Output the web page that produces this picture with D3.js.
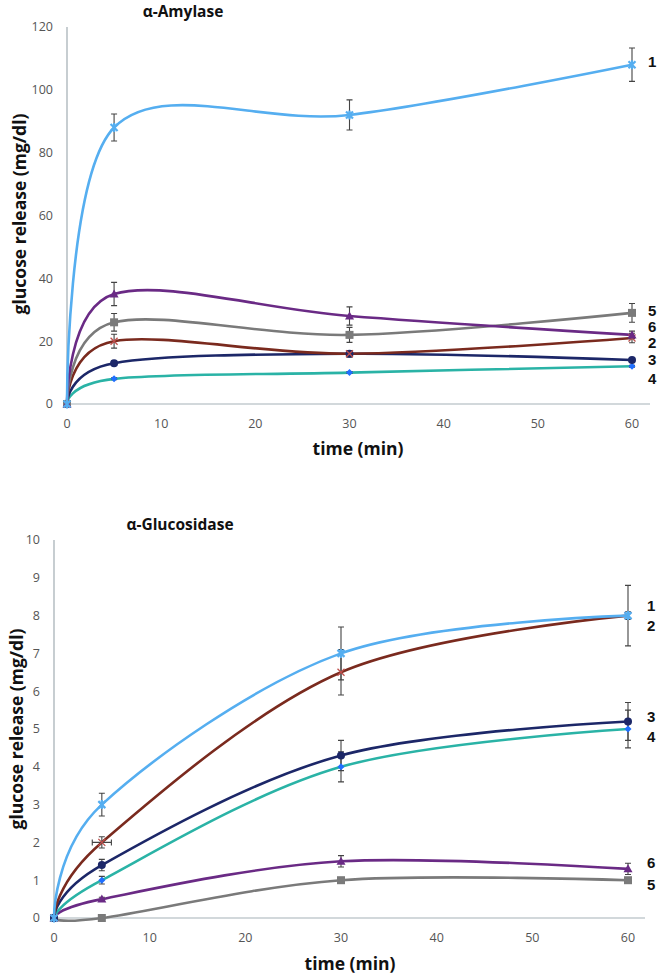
<!DOCTYPE html>
<html><head><meta charset="utf-8">
<script src="https://cdn.jsdelivr.net/npm/d3@7"></script>
<style>body{margin:0;background:#fff}svg{display:block}</style>
</head><body>
<script>
// ---------- data ----------
const times = [0, 5, 30, 60];
const seriesNames = ["1", "2", "3", "4", "5", "6"];
const seriesColors = ["#55aef0", "#7a2a1e", "#1c2768", "#2ab3a6", "#7a7a7a", "#6a2a85"];
const markerColors = ["#55aef0", "#c0504d", "#1c2768", "#1f6fff", "#7a7a7a", "#6a2a85"];
const markerShapes = ["star", "x", "circle", "diamond", "square", "triangle"];

// alpha-Amylase
const amyS1 = [0, 88, 92, 108], amyE1 = [0, 4.3, 4.8, 5.3];
const amyS2 = [0, 20, 16, 21],  amyE2 = [0, 2.2, 1, 1.5];
const amyS3 = [0, 13, 16, 14],  amyE3 = [0, 0.7, 1, 0.8];
const amyS4 = [0, 8, 10, 12],   amyE4 = [0, 0.3, 0.3, 0.3];
const amyS5 = [0, 26, 22, 29],  amyE5 = [0, 2.8, 2.4, 3];
const amyS6 = [0, 35, 28, 22],  amyE6 = [0, 3.7, 2.9, 1.2];
const amyLabelVals = [109, 19.5, 14, 8, 29.8, 24.6];
const amyYTicks = [0, 20, 40, 60, 80, 100, 120];

// alpha-Glucosidase
const gluS1 = [0, 3, 7, 8],       gluE1 = [0, 0.3, 0.7, 0.8];
const gluS2 = [0, 2, 6.5, 8],     gluE2 = [0, 0.15, 0.6, 0.1];
const gluS3 = [0, 1.4, 4.3, 5.2], gluE3 = [0, 0.15, 0.4, 0.5];
const gluS4 = [0, 1, 4, 5],       gluE4 = [0, 0.1, 0.4, 0.5];
const gluS5 = [0, 0, 1, 1],       gluE5 = [0, 0, 0.05, 0.05];
const gluS6 = [0, 0.5, 1.5, 1.3], gluE6 = [0, 0.05, 0.15, 0.15];
const gluXErr2 = [0, 1, 0, 0];
const gluLabelVals = [8.25, 7.72, 5.32, 4.79, 0.87, 1.46];
const gluYTicks = [0,1,2,3,4,5,6,7,8,9,10];
const xTicks = [0, 10, 20, 30, 40, 50, 60];

const W = 661, H = 975;
const svg = d3.select("body").append("svg").attr("width", W).attr("height", H);

function drawMarker(g, shape, x, y, col) {
  const s = 3.5;
  if (shape === "circle") g.append("circle").attr("cx", x).attr("cy", y).attr("r", 4).attr("fill", col);
  else if (shape === "square") g.append("rect").attr("x", x-4).attr("y", y-4).attr("width", 8).attr("height", 8).attr("fill", col);
  else if (shape === "diamond") g.append("path").attr("d", `M${x},${y-3.5}L${x+3.5},${y}L${x},${y+3.5}L${x-3.5},${y}Z`).attr("fill", col);
  else if (shape === "triangle") g.append("path").attr("d", `M${x},${y-4.5}L${x+4.5},${y+3.5}L${x-4.5},${y+3.5}Z`).attr("fill", col);
  else if (shape === "star") {
    g.append("path").attr("d", `M${x-s},${y-s}L${x+s},${y+s}M${x-s},${y+s}L${x+s},${y-s}M${x},${y-s-1}L${x},${y+s+1}`)
      .attr("stroke", col).attr("stroke-width", 2.2);
  } else if (shape === "x") {
    g.append("path").attr("d", `M${x-s},${y-s}L${x+s},${y+s}M${x-s},${y+s}L${x+s},${y-s}`)
      .attr("stroke", col).attr("stroke-width", 1.3);
  }
}

function chart(opt) {
  const x = d3.scaleLinear().domain([0, 60]).range([opt.x0, opt.x60]);
  const y = d3.scaleLinear().domain([0, opt.ymax]).range([opt.y0, opt.ytop]);
  const g = svg.append("g");
  // axes lines
  g.append("line").attr("x1", x(0)).attr("x2", x(0)).attr("y1", y(0)).attr("y2", y(opt.ymax))
    .attr("stroke", "#a9b3b8").attr("stroke-width", 1.3);
  g.append("line").attr("x1", x(0)).attr("x2", opt.xend).attr("y1", y(0)).attr("y2", y(0))
    .attr("stroke", "#c3cbcf").attr("stroke-width", 1.3);
  // tick labels
  g.selectAll(".yt").data(opt.yticks).join("text")
    .attr("x", x(0) - 14).attr("y", d => y(d)).attr("dy", "0.35em").attr("text-anchor", "end")
    .attr("font-family", "Open Sans, sans-serif").attr("font-size", 12.5).attr("fill", "#555")
    .text(d => d);
  g.selectAll(".xt").data(xTicks).join("text")
    .attr("x", d => x(d)).attr("y", y(0) + 20).attr("dy", "0.35em").attr("text-anchor", "middle")
    .attr("font-family", "Open Sans, sans-serif").attr("font-size", 12.5).attr("fill", "#555")
    .text(d => d);
  // titles
  g.append("text").attr("x", opt.titleX).attr("y", opt.titleY).attr("dy", "0.35em").attr("text-anchor", "middle")
    .attr("font-family", "Open Sans, sans-serif").attr("font-weight", "bold").attr("font-size", 15.5).attr("fill", "#111")
    .text(opt.title);
  g.append("text").attr("x", opt.xTitleX).attr("y", opt.xTitleY).attr("dy", "0.35em").attr("text-anchor", "middle")
    .attr("font-family", "Open Sans, sans-serif").attr("font-weight", "bold").attr("font-size", 17.5).attr("fill", "#111")
    .text("time (min)");
  g.append("text").attr("transform", `translate(${opt.yTitleX},${opt.yTitleY}) rotate(-90)`).attr("dy", "0.35em")
    .attr("text-anchor", "middle")
    .attr("font-family", "Open Sans, sans-serif").attr("font-weight", "bold").attr("font-size", 17.5).attr("fill", "#111")
    .text("glucose release (mg/dl)");

  const line = d3.line().x((d, i) => x(times[i])).y(d => y(d)).curve(d3.curveCardinal.tension(0));
  const order = opt.drawOrder;
  // lines
  order.forEach(k => {
    g.append("path").attr("d", line(opt.series[k])).attr("fill", "none")
      .attr("stroke", seriesColors[k]).attr("stroke-width", 2.6);
  });
  // error bars
  order.forEach(k => {
    opt.series[k].forEach((v, i) => {
      const e = opt.errs[k][i];
      if (e > 0) {
        const cx = x(times[i]);
        g.append("path").attr("d", `M${cx},${y(v - e)}L${cx},${y(v + e)}M${cx-3},${y(v-e)}L${cx+3},${y(v-e)}M${cx-3},${y(v+e)}L${cx+3},${y(v+e)}`)
          .attr("stroke", "#444").attr("stroke-width", 1.1).attr("fill", "none");
      }
      if (opt.xerrs && opt.xerrs[k] && opt.xerrs[k][i] > 0) {
        const xe = opt.xerrs[k][i], cy = y(v);
        g.append("path").attr("d", `M${x(times[i]-xe)},${cy}L${x(times[i]+xe)},${cy}M${x(times[i]-xe)},${cy-3}L${x(times[i]-xe)},${cy+3}M${x(times[i]+xe)},${cy-3}L${x(times[i]+xe)},${cy+3}`)
          .attr("stroke", "#444").attr("stroke-width", 1.1).attr("fill", "none");
      }
    });
  });
  // markers
  order.forEach(k => {
    opt.series[k].forEach((v, i) => drawMarker(g, markerShapes[k], x(times[i]), y(v), markerColors[k]));
  });
  // series labels
  seriesNames.forEach((n, k) => {
    g.append("text").attr("x", opt.labelX).attr("y", y(opt.labels[k])).attr("dy", "0.35em")
      .attr("font-family", "Liberation Sans, Arial, sans-serif").attr("font-weight", "bold").attr("font-size", 15)
      .attr("fill", "#111").text(n);
  });
}

chart({
  x0: 67, x60: 632, xend: 650, y0: 404, ytop: 27, ymax: 120, yticks: amyYTicks,
  title: "α-Amylase", titleX: 183, titleY: 12, xTitleX: 358, xTitleY: 449, yTitleX: 20, yTitleY: 214,
  series: [amyS1, amyS2, amyS3, amyS4, amyS5, amyS6],
  errs: [amyE1, amyE2, amyE3, amyE4, amyE5, amyE6],
  labels: amyLabelVals, labelX: 648, drawOrder: [3, 2, 1, 4, 5, 0]
});
chart({
  x0: 54, x60: 628, xend: 645, y0: 918, ytop: 540, ymax: 10, yticks: gluYTicks,
  title: "α-Glucosidase", titleX: 180, titleY: 525, xTitleX: 350, xTitleY: 964, yTitleX: 17, yTitleY: 729,
  series: [gluS1, gluS2, gluS3, gluS4, gluS5, gluS6],
  errs: [gluE1, gluE2, gluE3, gluE4, gluE5, gluE6],
  xerrs: [null, gluXErr2, null, null, null, null],
  labels: gluLabelVals, labelX: 647, drawOrder: [4, 5, 3, 2, 1, 0]
});
</script>
</body></html>
